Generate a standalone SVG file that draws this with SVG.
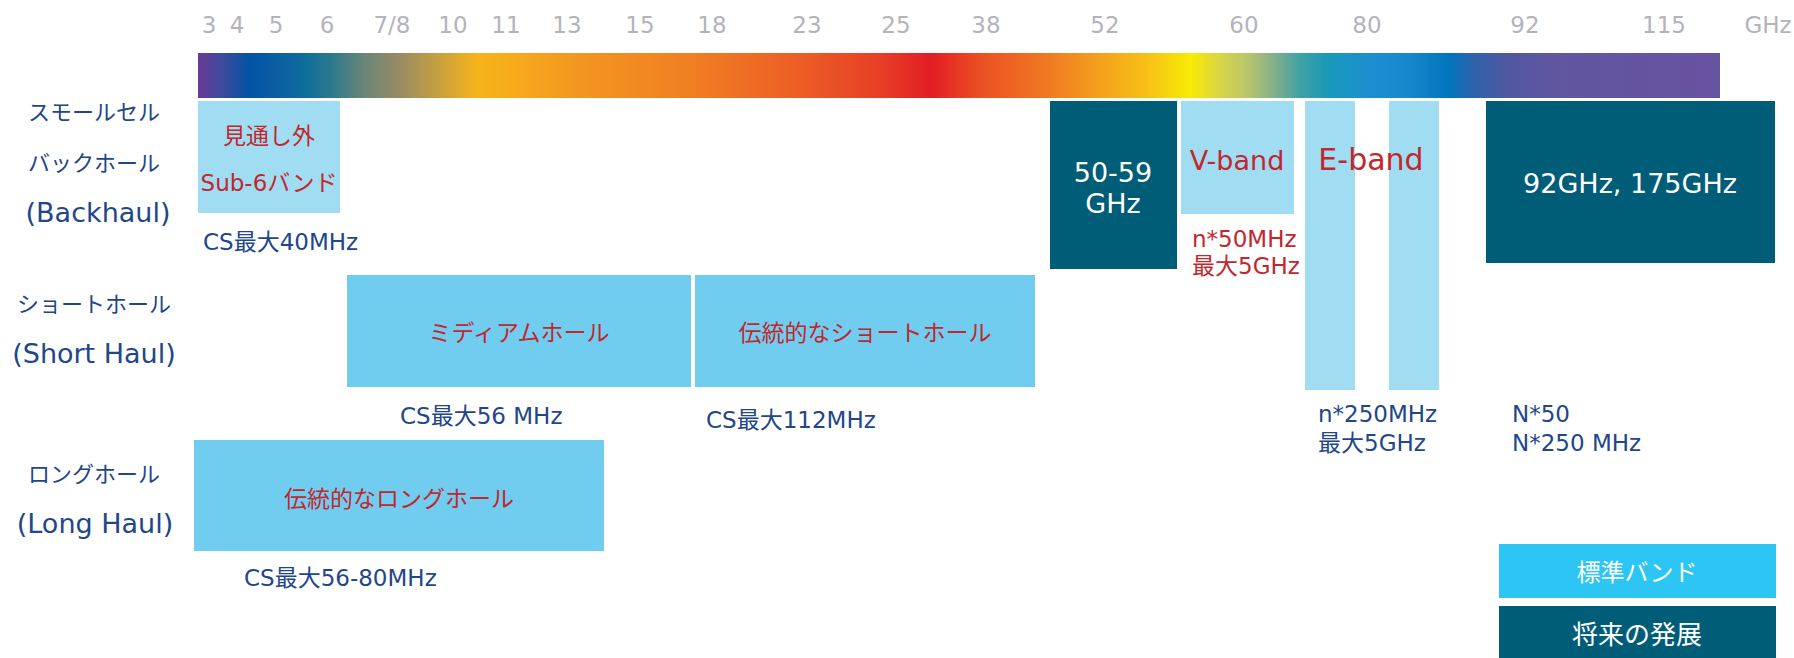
<svg xmlns="http://www.w3.org/2000/svg" width="1794" height="658" viewBox="0 0 1794 658">
<defs>
<linearGradient id="spec" x1="0" y1="0" x2="1" y2="0">
<stop offset="0" stop-color="#673a96"/>
<stop offset="0.016" stop-color="#3d4a9c"/>
<stop offset="0.034" stop-color="#0055a4"/>
<stop offset="0.046" stop-color="#0a5aa5"/>
<stop offset="0.071" stop-color="#0e6e9a"/>
<stop offset="0.089" stop-color="#2f7a8a"/>
<stop offset="0.109" stop-color="#6a8578"/>
<stop offset="0.134" stop-color="#9a8c62"/>
<stop offset="0.159" stop-color="#c9a13d"/>
<stop offset="0.184" stop-color="#f6b31a"/>
<stop offset="0.21" stop-color="#f7a91c"/>
<stop offset="0.247" stop-color="#f39720"/>
<stop offset="0.323" stop-color="#f07f22"/>
<stop offset="0.396" stop-color="#ec5d25"/>
<stop offset="0.448" stop-color="#e73f27"/>
<stop offset="0.482" stop-color="#e31d24"/>
<stop offset="0.514" stop-color="#ec5024"/>
<stop offset="0.56" stop-color="#f07b22"/>
<stop offset="0.593" stop-color="#f4a11d"/>
<stop offset="0.625" stop-color="#f7c216"/>
<stop offset="0.652" stop-color="#f9ea05"/>
<stop offset="0.675" stop-color="#d3d24e"/>
<stop offset="0.691" stop-color="#b5c46e"/>
<stop offset="0.708" stop-color="#80ae8c"/>
<stop offset="0.724" stop-color="#3fa2a4"/>
<stop offset="0.744" stop-color="#1799bb"/>
<stop offset="0.77" stop-color="#1d8ed0"/>
<stop offset="0.796" stop-color="#1688cd"/>
<stop offset="0.822" stop-color="#0074bd"/>
<stop offset="0.839" stop-color="#3062aa"/>
<stop offset="0.862" stop-color="#5257a0"/>
<stop offset="0.895" stop-color="#6156a0"/>
<stop offset="1" stop-color="#6853a1"/>
</linearGradient>
<style>
text { font-family: "DejaVu Sans", "Noto Sans CJK JP", sans-serif; }
.tick { font-size: 23px; fill: #b3b3bb; text-anchor: middle; }
.cat { font-size: 22px; fill: #22468a; text-anchor: middle; }
.catl { font-size: 27px; fill: #22468a; text-anchor: middle; }
.note { font-size: 23px; fill: #22468a; }
.rnote { font-size: 23px; fill: #c1272d; }
.lt { fill: #a0ddf3; }
.md { fill: #70cdf0; }
.dk { fill: #005d78; }
.std { fill: #2cc5f4; }
.red { fill: #c1272d; text-anchor: middle; }
.wht { fill: #ffffff; text-anchor: middle; }
</style>
</defs>
<rect width="1794" height="658" fill="#ffffff"/>

<g id="axis">
<rect x="198" y="53" width="1522" height="45" fill="url(#spec)"/>
<text class="tick" x="209" y="33">3</text>
<text class="tick" x="237" y="33">4</text>
<text class="tick" x="276" y="33">5</text>
<text class="tick" x="327" y="33">6</text>
<text class="tick" x="392" y="33">7/8</text>
<text class="tick" x="453" y="33">10</text>
<text class="tick" x="506" y="33">11</text>
<text class="tick" x="567" y="33">13</text>
<text class="tick" x="640" y="33">15</text>
<text class="tick" x="712" y="33">18</text>
<text class="tick" x="807" y="33">23</text>
<text class="tick" x="896" y="33">25</text>
<text class="tick" x="986" y="33">38</text>
<text class="tick" x="1105" y="33">52</text>
<text class="tick" x="1244" y="33">60</text>
<text class="tick" x="1367" y="33">80</text>
<text class="tick" x="1525" y="33">92</text>
<text class="tick" x="1664" y="33">115</text>
<text class="tick" x="1768" y="33">GHz</text>
</g>

<g id="row-labels">
<text class="cat" x="94" y="120">スモールセル</text>
<text class="cat" x="94" y="171">バックホール</text>
<text class="catl" x="98" y="222">(Backhaul)</text>
<text class="cat" x="94" y="312">ショートホール</text>
<text class="catl" x="94" y="363">(Short Haul)</text>
<text class="cat" x="94" y="482">ロングホール</text>
<text class="catl" x="95" y="533">(Long Haul)</text>
</g>

<g id="sub6">
<rect class="lt" x="198" y="101" width="142" height="112"/>
<text class="red" x="269" y="144" font-size="23">見通し外</text>
<text class="red" x="269" y="191" font-size="23">Sub-6バンド</text>
<text class="note" x="203" y="250">CS最大40MHz</text>
</g>

<g id="band-50-59">
<rect class="dk" x="1050" y="101" width="127" height="168"/>
<text class="wht" x="1113" y="182" font-size="27">50-59</text>
<text class="wht" x="1113" y="213" font-size="27">GHz</text>
</g>

<g id="v-band">
<rect class="lt" x="1181" y="101" width="113" height="113"/>
<text class="red" x="1237" y="170" font-size="27">V-band</text>
<text class="rnote" x="1192" y="247">n*50MHz</text>
<text class="rnote" x="1192" y="274">最大5GHz</text>
</g>

<g id="e-band">
<rect class="lt" x="1305" y="101" width="50" height="289"/>
<rect class="lt" x="1389" y="101" width="50" height="289"/>
<text class="red" x="1371" y="170" font-size="30">E-band</text>
<text class="note" x="1318" y="422">n*250MHz</text>
<text class="note" x="1318" y="451">最大5GHz</text>
</g>

<g id="band-92-175">
<rect class="dk" x="1486" y="101" width="289" height="162"/>
<text class="wht" x="1630" y="193" font-size="27">92GHz, 175GHz</text>
<text class="note" x="1512" y="422">N*50</text>
<text class="note" x="1512" y="451">N*250 MHz</text>
</g>

<g id="medium-haul">
<rect class="md" x="347" y="275" width="344" height="112"/>
<text class="red" x="519" y="341" font-size="23">ミディアムホール</text>
<text class="note" x="400" y="424">CS最大56 MHz</text>
</g>

<g id="short-haul">
<rect class="md" x="695" y="275" width="340" height="112"/>
<text class="red" x="865" y="341" font-size="23">伝統的なショートホール</text>
<text class="note" x="706" y="428">CS最大112MHz</text>
</g>

<g id="long-haul">
<rect class="md" x="194" y="440" width="410" height="111"/>
<text class="red" x="399" y="507" font-size="23">伝統的なロングホール</text>
<text class="note" x="244" y="586">CS最大56-80MHz</text>
</g>

<g id="legend-standard">
<rect class="std" x="1499" y="544" width="277" height="54"/>
<text class="wht" x="1637" y="581" font-size="24">標準バンド</text>
</g>

<g id="legend-future">
<rect class="dk" x="1499" y="606" width="277" height="52"/>
<text class="wht" x="1637" y="644" font-size="26">将来の発展</text>
</g>

<g id="connectors"></g>
</svg>
